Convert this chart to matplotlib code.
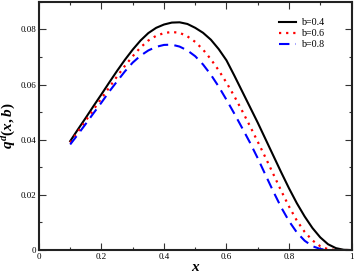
import matplotlib
matplotlib.use("Agg")
import matplotlib.pyplot as plt
from matplotlib.ticker import MultipleLocator

plt.rcParams['font.family'] = ['Liberation Serif', 'DejaVu Serif']
plt.rcParams['mathtext.fontset'] = 'custom'
plt.rcParams['mathtext.it'] = 'Liberation Serif:italic:bold'
plt.rcParams['mathtext.rm'] = 'Liberation Serif:bold'
plt.rcParams['mathtext.bf'] = 'Liberation Serif:bold'

x = [0.100, 0.125, 0.150, 0.175, 0.200, 0.225, 0.250, 0.275, 0.300, 0.325,
     0.350, 0.375, 0.400, 0.425, 0.450, 0.475, 0.500, 0.525, 0.550, 0.575,
     0.600, 0.625, 0.650, 0.675, 0.700, 0.725, 0.750, 0.775, 0.800, 0.825,
     0.850, 0.875, 0.900, 0.925, 0.950, 0.975, 1.000]
q_b04 = [0.0395, 0.0438, 0.0480, 0.0523, 0.0565, 0.0608, 0.0650, 0.0690, 0.0727, 0.0760,
         0.0787, 0.0806, 0.0818, 0.0825, 0.0826, 0.0820, 0.0806, 0.0788, 0.0763, 0.0729,
         0.0688, 0.0633, 0.0576, 0.0519, 0.0462, 0.0402, 0.0342, 0.0282, 0.0224, 0.0170,
         0.0122, 0.0080, 0.0046, 0.0021, 0.0007, 0.0001, 0.0]
q_b06 = [0.0390, 0.0430, 0.0470, 0.0510, 0.0550, 0.0590, 0.0630, 0.0668, 0.0703, 0.0735,
         0.0760, 0.0777, 0.0787, 0.0791, 0.0788, 0.0775, 0.0755, 0.0727, 0.0692, 0.0652,
         0.0607, 0.0558, 0.0505, 0.0450, 0.0393, 0.0335, 0.0275, 0.0215, 0.0158, 0.0107,
         0.0066, 0.0035, 0.0014, 0.0003, 0.0, 0.0, 0.0]
q_b08 = [0.0383, 0.0420, 0.0458, 0.0497, 0.0535, 0.0575, 0.0612, 0.0648, 0.0680, 0.0705,
         0.0724, 0.0737, 0.0744, 0.0745, 0.0738, 0.0724, 0.0703, 0.0673, 0.0636, 0.0593,
         0.0545, 0.0495, 0.0443, 0.0390, 0.0333, 0.0272, 0.0212, 0.0155, 0.0105, 0.0064,
         0.0034, 0.0014, 0.0004, 0.0, 0.0, 0.0, 0.0]
labels = ['b=0.4', 'b=0.6', 'b=0.8']
xticks = [0, 0.2, 0.4, 0.6, 0.8, 1.0]
xticklabels = ['0', '0.2', '0.4', '0.6', '0.8', '1']
yticks = [0, 0.02, 0.04, 0.06, 0.08]
yticklabels = ['0', '0.02', '0.04', '0.06', '0.08']

fig = plt.figure(figsize=(3.54, 2.73), dpi=100)
ax = fig.add_axes([0.110, 0.084, 0.883, 0.909])

ax.plot(x, q_b04, color='black', lw=1.5, ls='-', label=labels[0])
ax.plot(x, q_b06, color='#ff0000', lw=1.6, ls=(0, (1, 2.2)), label=labels[1])
ax.plot(x, q_b08, color='#0000ff', lw=1.5, ls=(0, (5, 3)), label=labels[2])

ax.set_xlim(0, 1)
ax.set_ylim(0, 0.09)
ax.set_xticks(xticks)
ax.set_xticklabels(xticklabels)
ax.set_yticks(yticks)
ax.set_yticklabels(yticklabels)
ax.xaxis.set_minor_locator(MultipleLocator(0.1))
ax.yaxis.set_minor_locator(MultipleLocator(0.01))
ax.tick_params(which='both', direction='in', top=True, right=True,
               labelsize=6.5, color='#333333', width=0.8, pad=2)
ax.tick_params(which='major', length=5)
ax.tick_params(which='minor', length=2.5)
for s in ax.spines.values():
    s.set_linewidth(1.5)
    s.set_color('#222222')

ax.set_xlabel('$x$', fontsize=11, labelpad=0)
ax.set_ylabel('$q^d(x,b)$', fontsize=11, labelpad=2)

leg = ax.legend(loc='upper right', frameon=False, fontsize=7.2,
                handlelength=1.7, handletextpad=0.5, labelspacing=0.2,
                bbox_to_anchor=(0.94, 0.97))

fig.savefig('out.png', dpi=100)
